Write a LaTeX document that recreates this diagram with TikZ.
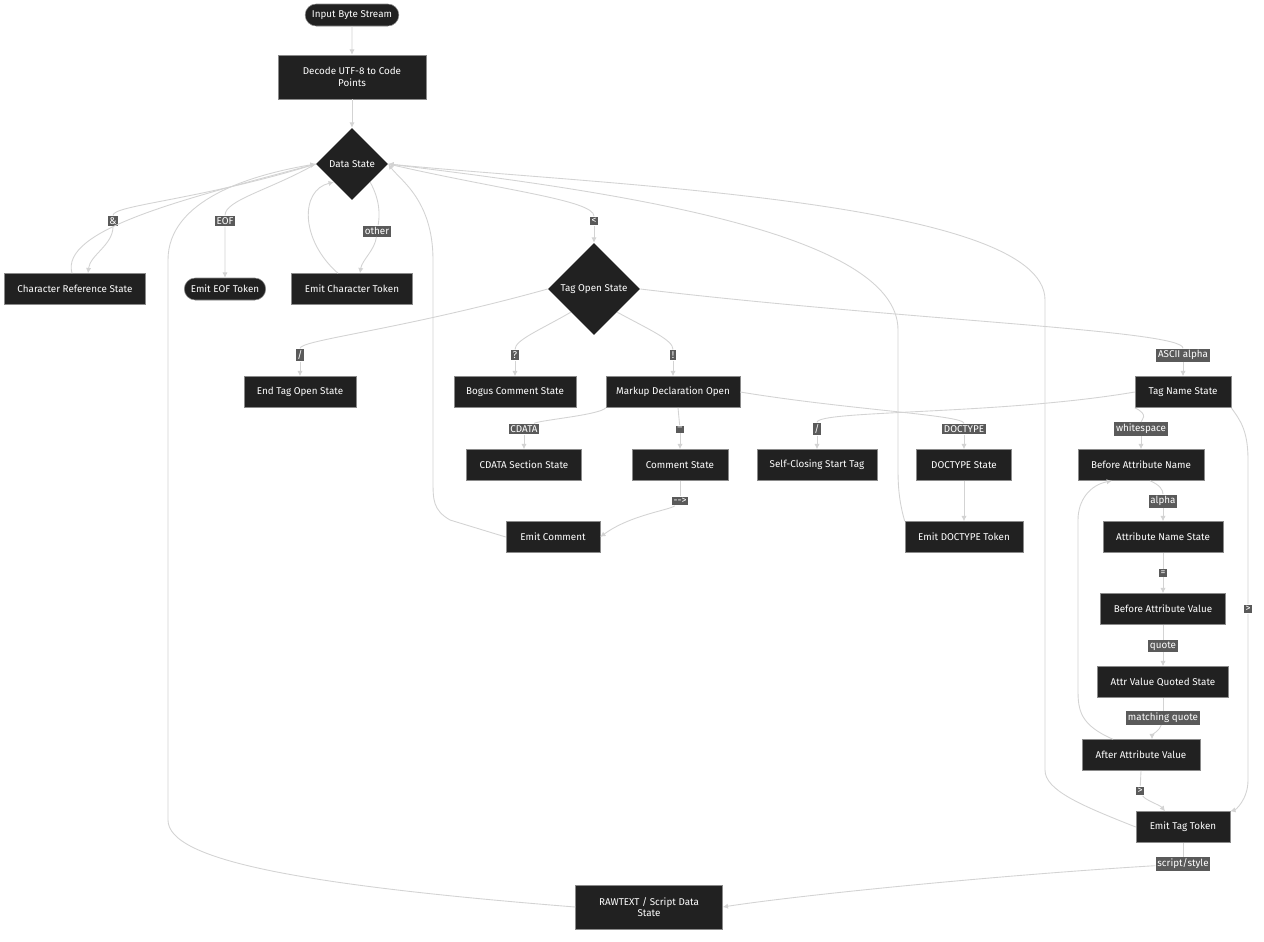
\documentclass[tikz,border=0pt]{standalone}
\usepackage{fontspec}
\setmainfont{Fira Sans}
\usetikzlibrary{arrows.meta,shapes.geometric,shapes.misc}

\definecolor{boxfill}{HTML}{212121}
\definecolor{boxline}{HTML}{8A8A8A}
\definecolor{edgeline}{HTML}{D3D3D3}
\definecolor{tagfill}{HTML}{5A5A5A}

\tikzset{
    state/.style={
        draw=boxline, fill=boxfill, text=white, line width=0.3pt,
        rectangle, minimum height=0.62cm, font=\fontsize{5.6}{6.6}\selectfont,
        align=center
    },
    term/.style={
        state, rounded rectangle, minimum height=0.44cm
    },
    choice/.style={
        fill=boxfill, text=white, diamond, inner sep=0pt,
        font=\fontsize{5.6}{6.6}\selectfont
    },
    tag/.style={
        fill=tagfill, text=white, inner sep=1pt,
        font=\fontsize{5.6}{6.6}\selectfont
    },
    edge/.style={draw=edgeline, line width=0.5pt},
    go/.style={edge, -{Latex[length=3pt,width=3pt]}}
}

\begin{document}
\begin{tikzpicture}[x=0.02cm,y=-0.02cm]
\useasboundingbox (0,0) rectangle (1264,941);

% states
\node[term, minimum width=1.76cm] (input) at (352,15) {Input Byte Stream};
\node[state, minimum width=2.96cm, minimum height=0.88cm] (decode) at (352,77) {Decode UTF-8 to Code\\Points};
\node[choice, minimum size=1.44cm] (data) at (352,164) {Data State};
\node[state, minimum width=2.82cm] (charref) at (75,289) {Character Reference State};
\node[term, minimum width=1.54cm] (eof) at (225,289) {Emit EOF Token};
\node[state, minimum width=2.42cm] (emitchar) at (352,289) {Emit Character Token};
\node[choice, minimum size=1.84cm] (tagopen) at (594,289) {Tag Open State};
\node[state, minimum width=2.24cm] (endtag) at (300,392) {End Tag Open State};
\node[state, minimum width=2.44cm] (bogus) at (515,392) {Bogus Comment State};
\node[state, minimum width=2.68cm] (markup) at (673,392) {Markup Declaration Open};
\node[state, minimum width=1.92cm] (tagname) at (1183,392) {Tag Name State};
\node[state, minimum width=2.30cm] (cdata) at (524,465) {CDATA Section State};
\node[state, minimum width=1.92cm] (comment) at (680,465) {Comment State};
\node[state, minimum width=2.40cm] (selfclose) at (817,465) {Self-Closing Start Tag};
\node[state, minimum width=1.90cm] (doctype) at (964,465) {DOCTYPE State};
\node[state, minimum width=2.52cm] (beforename) at (1141,465) {Before Attribute Name};
\node[state, minimum width=1.88cm] (emitcomment) at (553,537) {Emit Comment};
\node[state, minimum width=2.36cm] (emitdoctype) at (964,537) {Emit DOCTYPE Token};
\node[state, minimum width=2.40cm] (attrname) at (1163,537) {Attribute Name State};
\node[state, minimum width=2.50cm] (beforevalue) at (1163,609) {Before Attribute Value};
\node[state, minimum width=2.62cm] (quoted) at (1163,682) {Attr Value Quoted State};
\node[state, minimum width=2.36cm] (aftervalue) at (1141,755) {After Attribute Value};
\node[state, minimum width=1.88cm] (emittag) at (1183,827) {Emit Tag Token};
\node[state, minimum width=2.94cm, minimum height=0.88cm] (rawtext) at (649,907) {RAWTEXT / Script Data\\State};

% edge labels
\node[tag] (tamp) at (113,221) {\&};
\node[tag] (teof) at (225,221) {EOF};
\node[tag] (tother) at (377,231) {other};
\node[tag] (tlt) at (594,221) {<};
\node[tag] (tslash) at (300,355) {/};
\node[tag] (tquest) at (515,355) {?};
\node[tag] (tbang) at (673,355) {!};
\node[tag] (talpha) at (1183,355) {ASCII alpha};
\node[tag] (tcdata) at (524,429) {CDATA};
\node[tag] (tdash) at (680,429) {--};
\node[tag] (tself) at (817,429) {/};
\node[tag] (tdoc) at (964,429) {DOCTYPE};
\node[tag] (twhite) at (1141,429) {whitespace};
\node[tag] (tclose) at (680,501) {-{}->};
\node[tag] (tname) at (1163,501) {alpha};
\node[tag] (teq) at (1163,573) {=};
\node[tag] (tquote) at (1163,646) {quote};
\node[tag] (tmatch) at (1163,718) {matching quote};
\node[tag] (tgt) at (1140,791) {>};
\node[tag] (tgtb) at (1248,609) {>};
\node[tag] (tscript) at (1183,864) {script/style};

% connectors
\begin{scope}[on background layer/.style={}]
\draw[go] (input) -- (decode);
\draw[go] (decode) -- (data);
\draw[edge] (data.west) .. controls (200,200) and (113,205) .. (tamp);
\draw[go] (tamp) .. controls (113,245) and (90,255) .. (charref.north -| 88,0);
\draw[go] (charref.north -| 72,0) .. controls (60,230) and (180,200) .. (data.west);
\draw[edge] (data.west) .. controls (270,190) and (225,200) .. (teof);
\draw[go] (teof) -- (eof);
\draw[go] (emitchar.north -| 338,0) .. controls (300,240) and (300,190) .. (data.south west);
\draw[edge] (data.south east) .. controls (380,200) and (380,215) .. (tother);
\draw[go] (tother) .. controls (375,250) and (362,260) .. (emitchar.north -| 360,0);
\draw[edge] (data.east) .. controls (500,190) and (594,200) .. (tlt);
\draw[go] (tlt) -- (tagopen);
\draw[go] (rawtext.west) .. controls (300,885) and (168,860) .. (168,820)
  -- (168,260) .. controls (168,200) and (250,175) .. (data.west);
\draw[go] (emitcomment.west) -- (450,520) .. controls (433,510) and (433,500) .. (433,480)
  -- (433,260) .. controls (433,200) and (400,180) .. (data.east);
\draw[go] (emitdoctype.north west) .. controls (900,505) and (898,490) .. (898,470)
  -- (898,330) .. controls (898,230) and (600,190) .. (data.east);
\draw[go] (emittag.west) .. controls (1080,805) and (1045,790) .. (1045,770)
  -- (1045,300) .. controls (1045,200) and (600,185) .. (data.east);

\draw[edge] (tagopen.west) .. controls (400,330) and (300,340) .. (tslash);
\draw[go] (tslash) -- (endtag);
\draw[edge] (tagopen.south west) .. controls (540,330) and (515,340) .. (tquest);
\draw[go] (tquest) -- (bogus);
\draw[edge] (tagopen.south east) .. controls (650,330) and (673,340) .. (tbang);
\draw[go] (tbang) -- (markup);
\draw[edge] (tagopen.east) .. controls (900,320) and (1183,330) .. (talpha);
\draw[go] (talpha) -- (tagname);

\draw[edge] (markup.south west) .. controls (600,415) and (540,420) .. (tcdata);
\draw[go] (tcdata) -- (cdata);
\draw[edge] (markup.south -| 678,0) -- (tdash);
\draw[go] (tdash) -- (comment);
\draw[edge] (markup.east) .. controls (850,410) and (964,415) .. (tdoc);
\draw[go] (tdoc) -- (doctype);
\draw[edge] (comment.south) -- (tclose);
\draw[go] (tclose) .. controls (670,510) and (630,515) .. (emitcomment.east);
\draw[go] (doctype) -- (emitdoctype);

\draw[edge] (tagname.west) .. controls (1000,415) and (817,410) .. (tself);
\draw[go] (tself) -- (selfclose);
\draw[edge] (tagname.south west) .. controls (1150,415) and (1141,420) .. (twhite);
\draw[go] (twhite) -- (beforename);
\draw[edge] (tagname.south east) .. controls (1240,420) and (1248,430) .. (1248,460) -- (tgtb);
\draw[go] (tgtb) -- (1248,780) .. controls (1248,800) and (1235,810) .. (emittag.north east);
\draw[edge] (beforename.south -| 1150,0) .. controls (1160,485) and (1163,490) .. (tname);
\draw[go] (tname) -- (attrname);
\draw[edge] (attrname) -- (teq);
\draw[go] (teq) -- (beforevalue);
\draw[edge] (beforevalue) -- (tquote);
\draw[go] (tquote) -- (quoted);
\draw[edge] (quoted) -- (tmatch);
\draw[go] (tmatch) .. controls (1160,730) and (1152,735) .. (aftervalue.north -| 1152,0);
\draw[go] (aftervalue.north -| 1113,0) .. controls (1080,725) and (1078,710) .. (1078,690)
  -- (1078,520) .. controls (1078,500) and (1090,485) .. (beforename.south -| 1112,0);
\draw[edge] (aftervalue.south) -- (tgt);
\draw[go] (tgt) .. controls (1145,800) and (1160,805) .. (emittag.north -| 1165,0);
\draw[edge] (emittag.south) .. controls (1183,845) and (1183,850) .. (tscript);
\draw[go] (tscript) .. controls (1000,875) and (800,895) .. (rawtext.east);
\end{scope}
\end{tikzpicture}
\end{document}
